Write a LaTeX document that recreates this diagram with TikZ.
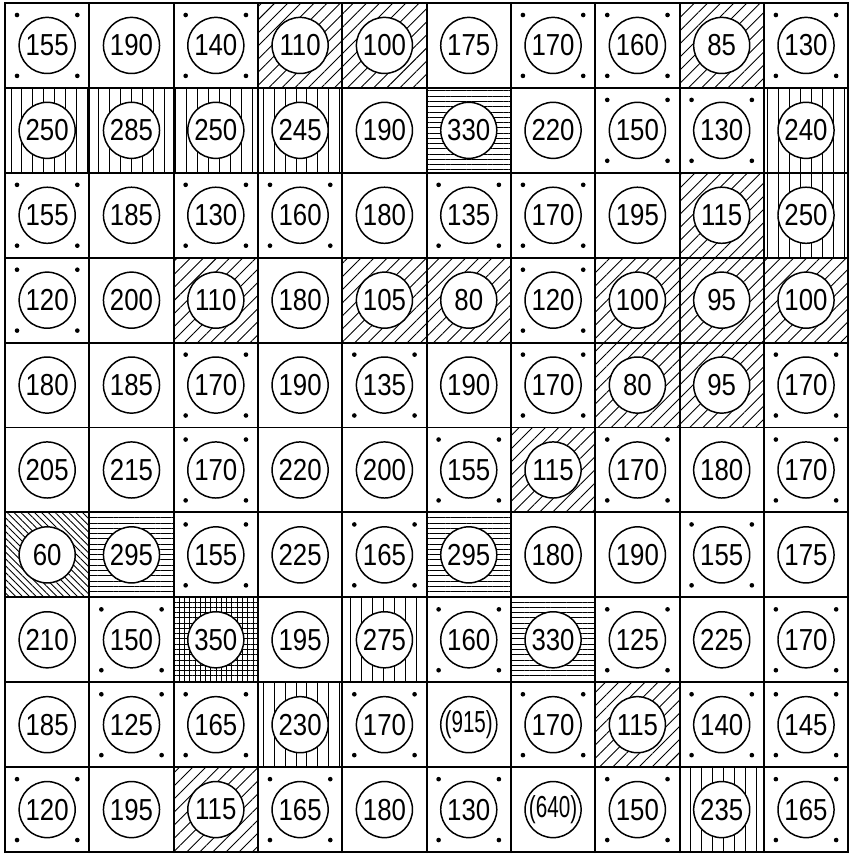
\documentclass[tikz,border=0pt]{standalone}
\usepackage{fontspec}
\newfontfamily\cellfont[FakeStretch=0.85]{Liberation Sans}
\newfontfamily\cellfonttight[FakeStretch=0.68]{Liberation Sans}
\usetikzlibrary{patterns.meta}

\tikzset{
  reading/.style={circle, draw, line width=1pt, fill=white, minimum size=1.33cm,
    inner sep=0pt, font=\cellfont\fontsize{20.5}{20.5}\selectfont},
  tight p/.style={font=\cellfonttight\fontsize{20.5}{20.5}\selectfont},
  gridline/.style={line width=1.3pt},
  kind n/.style={},
  kind p/.style={},
  kind d/.style={fill=white, path picture={
    \fill[black] ([shift={(0.285,-0.285)}]path picture bounding box.north west) circle (0.055);
    \fill[black] ([shift={(-0.285,-0.285)}]path picture bounding box.north east) circle (0.055);
    \fill[black] ([shift={(0.285,0.285)}]path picture bounding box.south west) circle (0.055);
    \fill[black] ([shift={(-0.285,0.285)}]path picture bounding box.south east) circle (0.055);
  }},
  kind a/.style={pattern={Lines[angle=45,distance=2.2mm,line width=0.6pt]}},
  kind b/.style={pattern={Lines[angle=-45,distance=1.15mm,line width=0.6pt]}},
  kind v/.style={pattern={Lines[angle=90,distance=2.6mm,line width=0.6pt]}},
  kind h/.style={pattern={Lines[angle=0,distance=1.25mm,line width=0.6pt]}},
  kind g/.style={pattern={Hatch[angle=0,distance=1.25mm,line width=0.6pt]}},
}

\begin{document}
\begin{tikzpicture}[line cap=round]
    \useasboundingbox (-0.119,0.071) rectangle (20.024,-20.21);
    % --- cells: value / kind of shading ---
    \foreach \rowdata [count=\r] in {%
      {155/d,190/n,140/d,110/a,100/a,175/n,170/d,160/d,85/a,130/d},
      {250/v,285/v,250/v,245/v,190/n,330/h,220/n,150/d,130/d,240/v},
      {155/d,185/n,130/d,160/d,180/n,135/d,170/d,195/n,115/a,250/v},
      {120/d,200/n,110/a,180/n,105/a,80/a,120/d,100/a,95/a,100/a},
      {180/n,185/n,170/d,190/n,135/d,190/n,170/d,80/a,95/a,170/d},
      {205/n,215/n,170/d,220/n,200/n,155/d,115/a,170/d,180/n,170/d},
      {60/b,295/h,155/d,225/n,165/d,295/h,180/n,190/n,155/d,175/n},
      {210/n,150/d,350/g,195/n,275/v,160/d,330/h,125/d,225/n,170/d},
      {185/n,125/d,165/d,230/v,170/d,(915)/p,170/d,115/a,140/d,145/d},
      {120/d,195/n,115/a,165/d,180/n,130/d,(640)/p,150/d,235/v,165/d}}{%
      \foreach \val/\kind [count=\c] in \rowdata {
        \path[kind \kind] ({2*(\c-1)},{-2.014*(\r-1)}) rectangle ++(2,-2.014);
        \node[reading, tight \kind/.try] (cell-\r-\c) at ({2*\c-1},{-2.014*\r+1.007}) {\val};
      }
    }
    % --- grid ---
    \draw[gridline] (0,-20.14) grid[xstep=2,ystep=2.014] (20,0);
    \draw[gridline] (0,0) rectangle (20,-20.14);
\end{tikzpicture}
\end{document}
